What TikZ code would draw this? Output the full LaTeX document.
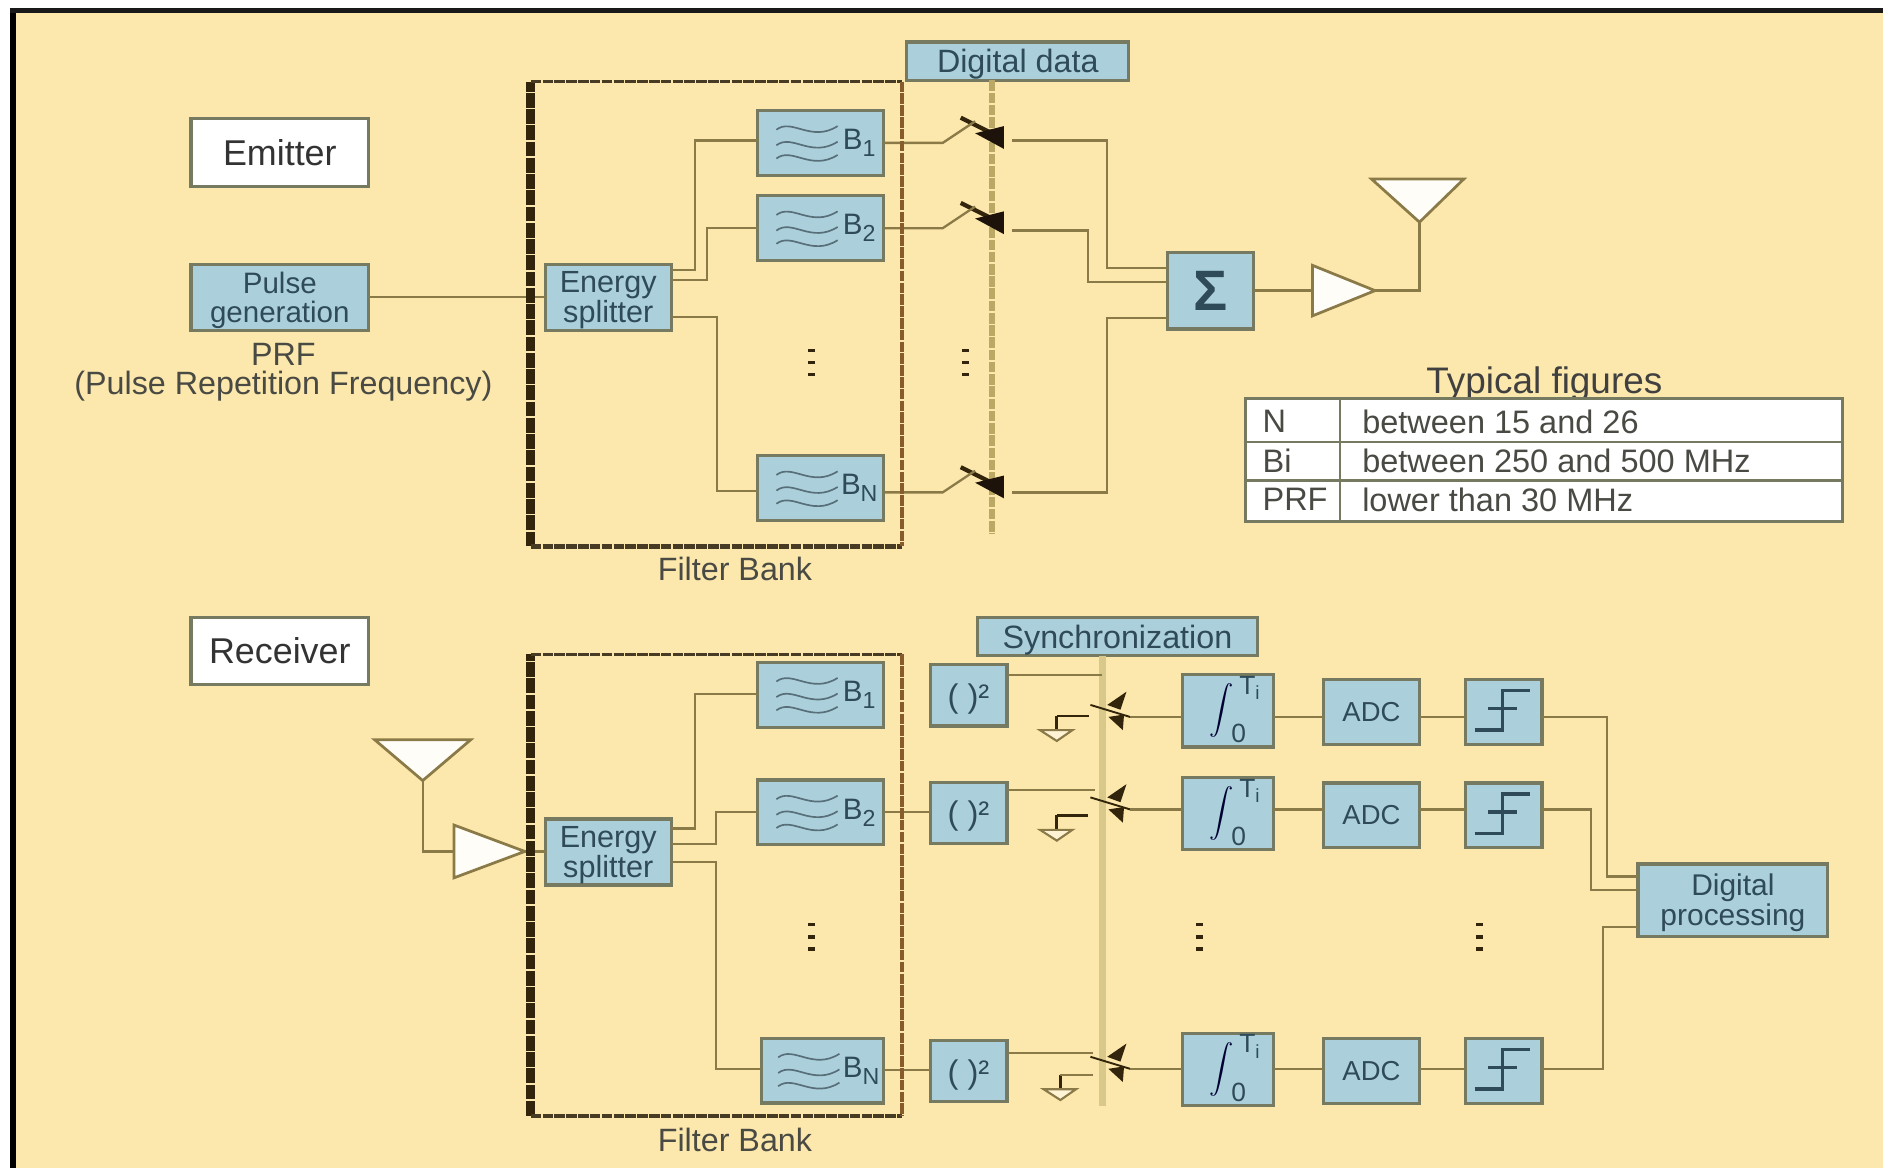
\documentclass[tikz,border=0pt]{standalone}
\usepackage{fontspec}
\setmainfont{Liberation Sans}
\definecolor{paper}{HTML}{FCE8AC}
\definecolor{boxfill}{HTML}{ABD0DC}
\definecolor{boxline}{HTML}{767A60}
\definecolor{wirec}{HTML}{8A7A48}
\definecolor{inkblue}{HTML}{2F4A58}
\definecolor{inkgrey}{HTML}{4A4A44}
\definecolor{darkbrown}{HTML}{33250C}
\definecolor{busc}{HTML}{BBA864}
\definecolor{syncc}{HTML}{D8C88A}
\newcommand{\fsz}[1]{\fontsize{#1}{#1}\selectfont}
\tikzset{
  x=0.02cm,y=-0.02cm,
  sized/.style 2 args={minimum width=0.02cm*#1,minimum height=0.02cm*#2,inner sep=0pt,outer sep=0pt},
  bluebox/.style={draw=boxline,fill=boxfill,line width=1.5pt,text=inkblue,align=center,text depth=0pt},
  whitebox/.style={draw=boxline,fill=white,line width=1.5pt,text=black!80,font=\fsz{17}},
  wire/.style={draw=wirec,line width=1.1pt,line join=miter},
  darkwire/.style={draw=darkbrown,line width=1.1pt},
  lbl/.style={inner sep=0pt,text=inkgrey,font=\fsz{15.3},align=center},
  tcell/.style={inner sep=0pt,anchor=west,text=inkgrey,font=\fsz{15.4}},
  waves/.pic={
    \foreach \yy in {-11,2,13}
      \draw[inkblue!80,line width=0.8pt] (-37,\yy) .. controls (-24,\yy-10) and (-8,\yy+11) .. (14,\yy-3);
  },
  thresh/.pic={
    \draw[inkblue,line width=1.7pt] (-24,15) -- (-1,15) -- (-1,-18) -- (22,-18);
    \draw[inkblue,line width=1.7pt] (-13,-3) -- (11,-3);
  },
  dsw/.pic={
    \draw[darkbrown,line width=2pt] (800,-21) -- (826,-8);
    \fill[black!85!brown] (812,-8) -- (836,-14) -- (836,5) -- cycle;
  },
  rsw/.pic={
    \draw[darkbrown,line width=0.9pt] (908,-10) -- (941,0);
    \fill[darkbrown] (938,-21) -- (922,-10) -- (933,-6) -- cycle;
    \fill[darkbrown] (923,0) -- (935,11) -- (936,-2) -- cycle;
  },
  gnd/.pic={
    \draw[darkbrown,line width=1.3pt] (0,0) -- (0,12);
    \draw[wirec,fill=paper!50!white,line width=1pt] (-14,12) -- (13,12) -- (0,21) -- cycle;
  },
  vdots/.pic={
    \foreach \yy in {-10,0,10}
      \fill[darkbrown] (-3,\yy-1.5) rectangle (3,\yy+1.5);
  },
  antfill/.style={draw=wirec,fill=white!90!paper,line width=1.3pt,line join=miter},
}
\newcommand{\filt}[5]{%
  \node[bluebox,sized={#4}{54}] (#1) at (#2,#3) {};
  \pic at (#1) {waves};
  \node[inner sep=0pt,text=inkblue,font=\fsz{14}] (#1lab) at ([xshift=0.64cm]#1) {B\raisebox{-0.45ex}{\fsz{11}#5}};
}
\newcommand{\integ}[3]{%
  \node[bluebox,sized={76}{60}] (#1) at (#2,#3) {};
  \node[inner sep=0pt,text=black!80!blue] (#1s) at ([xshift=-0.1cm]#1) {\scalebox{1.15}{$\displaystyle\int$}};
  \node[inner sep=0pt,text=inkblue,font=\fsz{12.5}] (#1t) at ([xshift=0.36cm,yshift=0.38cm]#1) {T\raisebox{-0.4ex}{\fsz{9}i}};
  \node[inner sep=0pt,text=inkblue,font=\fsz{12.5}] (#1z) at ([xshift=0.18cm,yshift=-0.38cm]#1) {0};
}
\begin{document}
\begin{tikzpicture}
\useasboundingbox (0,0) rectangle (1568,973);
\fill[white] (0,0) rectangle (1568,973);
\fill[paper] (8,8) rectangle (1568,973);
\fill[black] (8,7) rectangle (13,973);
\fill[black!90] (8,7) rectangle (1568,11);

% ---------- Emitter ----------
\node[whitebox,sized={148}{56}] (emit) at (233,127) {Emitter};
\node[bluebox,sized={148}{55},font=\fsz{14}] (pulse) at (233,247.5) {Pulse\\[-0.5pt]generation};
\node[lbl] (prf) at (236,310) {PRF\\[-1.5pt](Pulse Repetition Frequency)};
\node[inner sep=0pt,sized={309}{387}] (bank1) at (596.5,261.5) {};
\node[lbl] (bank1lab) at (612,474) {Filter Bank};
\node[bluebox,sized={185}{32},font=\fsz{15.3}] (ddata) at (847.5,51) {Digital data};
\coordinate (busend) at (826,445);
\draw[busc,line width=2.6pt,dash pattern=on 5pt off 0.8pt] (ddata.south -| busend) -- (busend);

\node[bluebox,sized={105}{55},font=\fsz{14.5}] (es1) at (506.5,247.5) {Energy\\[-0.5pt]splitter};
\filt{fa}{683.5}{119}{105}{1}
\filt{fb}{683.5}{190}{105}{2}
\filt{fc}{683.5}{406.5}{105}{N}
\node[bluebox,sized={72}{64},font=\fsz{27}\bfseries] (sum) at (1008,242) {Σ};

\pic at (0,119) {dsw};
\pic at (0,190) {dsw};
\pic at (0,410) {dsw};

\draw[wire] (pulse.east) -- (es1.west);
\draw[wire] (es1.east |- 0,225) -| (579,117) -- (fa.west |- 0,117);
\draw[wire] (es1.east |- 0,233) -| (589,190) -- (fb.west |- 0,190);
\draw[wire] (es1.east |- 0,264) -| (597,409) -- (fc.west |- 0,409);
\draw[wire] (fa.east |- 0,119) -- (785,119) -- (812,101);
\draw[wire] (fb.east |- 0,190) -- (785,190) -- (812,172);
\draw[wire] (fc.east |- 0,410) -- (785,410) -- (812,392);
\draw[wire] (843,117) -| (922,223) -- (sum.west |- 0,223);
\draw[wire] (843,192) -| (906,235) -- (sum.west |- 0,235);
\draw[wire] (843,410) -| (922,265) -- (sum.west |- 0,265);

\coordinate (amp1in) at (1093,242);
\coordinate (amp1out) at (1145,242);
\coordinate (ant1tip) at (1182,185);
\draw[wire] (sum.east) -- (amp1in);
\draw[antfill] (1093,221) -- (amp1out) -- (1093,263) -- cycle;
\draw[antfill] (1142,149) -- (1219,149) -- (ant1tip) -- cycle;
\draw[wire] (amp1out) -| (ant1tip);

\pic at (676,302) {vdots};
\pic at (804,302) {vdots};

% Typical figures
\node[inner sep=0pt,text=black!75,font=\fsz{17.5}] (tftitle) at (1286,320) {Typical figures};
\node[draw=boxline,fill=white,line width=1.3pt,sized={497}{102}] (tbl) at (1285.5,383) {};
\draw[boxline,line width=1.1pt] (tbl.west |- 0,368) -- (tbl.east |- 0,368);
\draw[boxline,line width=1.1pt] (tbl.west |- 0,400) -- (tbl.east |- 0,400);
\draw[boxline,line width=1.1pt] (1116,0 |- tbl.north) -- (1116,0 |- tbl.south);
\node[tcell] (c11) at (1051,351) {N};
\node[tcell] (c12) at (1134,351) {between 15 and 26};
\node[tcell] (c21) at (1051,384) {Bi};
\node[tcell] (c22) at (1134,384) {between 250 and 500 MHz};
\node[tcell] (c31) at (1051,416) {PRF};
\node[tcell] (c32) at (1134,416) {lower than 30 MHz};

% ---------- Receiver ----------
\node[whitebox,sized={148}{56}] (recv) at (233,542) {Receiver};
\node[inner sep=0pt,sized={309}{384}] (bank2) at (596.5,737) {};
\node[lbl] (bank2lab) at (612,949) {Filter Bank};
\node[bluebox,sized={233}{32},font=\fsz{15.3}] (sync) at (930.5,530) {Synchronization};
\coordinate (syncend) at (918,921);
\draw[syncc,line width=3.2pt] (918,0 |- sync.south) -- (syncend);

\node[bluebox,sized={105}{55},font=\fsz{14.5}] (es2) at (506.5,709.5) {Energy\\[-0.5pt]splitter};
\filt{ga}{683.5}{578.5}{105}{1}
\filt{gb}{683.5}{676.5}{105}{2}
\filt{gc}{685}{891.5}{102}{N}

\foreach \nm/\yy in {qa/579,qb/677,qc/892}
  \node[bluebox,sized={64}{51},font=\fsz{15.5}] (\nm) at (806.5,\yy) {( )²};
\integ{ia}{1022.5}{592}
\integ{ib}{1022.5}{677.5}
\integ{ic}{1022.5}{890.5}
\foreach \nm/\yy in {aa/593,ab/679,ac/892}
  \node[bluebox,sized={80}{54},font=\fsz{13}] (\nm) at (1142,\yy) {ADC};
\foreach \nm/\yy in {ta/593,tb/679,tc/892} {
  \node[bluebox,sized={64}{54}] (\nm) at (1252,\yy) {};
  \pic at (\nm) {thresh};
}
\node[bluebox,sized={158}{60},font=\fsz{14.2}] (dsp) at (1443,749.5) {Digital\\[0pt]processing};

\pic at (0,597) {rsw};
\pic at (0,674) {rsw};
\pic at (0,890) {rsw};
\pic at (880,596) {gnd};
\pic at (880,679) {gnd};
\pic at (883,895) {gnd};
\draw[darkwire] (880,596) -- (907,596);
\draw[darkwire] (880,679) -- (906,679);
\draw[wirec,line width=1.1pt] (883,895) -- (910,895);

\coordinate (amp2in) at (378,709);
\coordinate (amp2out) at (437,709);
\coordinate (ant2tip) at (352,650);
\draw[antfill] (378,687) -- (amp2out) -- (378,731) -- cycle;
\draw[antfill] (312,616) -- (392,616) -- (ant2tip) -- cycle;
\draw[wire] (ant2tip) |- (amp2in);
\draw[wire] (amp2out) -- (es2.west |- amp2out);

\draw[wire] (es2.east |- 0,690) -| (579,578) -- (ga.west |- 0,578);
\draw[wire] (es2.east |- 0,703) -| (596,676) -- (gb.west |- 0,676);
\draw[wire] (es2.east |- 0,718) -| (596,890) -- (gc.west |- 0,890);
\draw[wire] (gb.east |- 0,676) -- (qb.west |- 0,676);
\draw[wire] (gc.east |- 0,891) -- (qc.west |- 0,891);
\draw[wire] (qa.east |- 0,562) -- (918,562);
\draw[wire] (qb.east |- 0,658) -- (912,658);
\draw[wire] (qc.east |- 0,877) -- (910,877);
\foreach \nint/\nadc/\nthr/\yy in {ia/aa/ta/597,ib/ab/tb/674,ic/ac/tc/890} {
  \draw[wire] (\nint.west |- 0,\yy) -- (941,\yy);
  \draw[wire] (\nint.east |- 0,\yy) -- (\nadc.west |- 0,\yy);
  \draw[wire] (\nadc.east |- 0,\yy) -- (\nthr.west |- 0,\yy);
}
\draw[wire] (ta.east |- 0,597) -| (1338,730) -- (dsp.west |- 0,730);
\draw[wire] (tb.east |- 0,674) -| (1325,741) -- (dsp.west |- 0,741);
\draw[wire] (tc.east |- 0,890) -| (1335,772) -- (dsp.west |- 0,772);

\pic at (676,780) {vdots};
\pic at (999,780) {vdots};
\pic at (1232,780) {vdots};

% Filter bank outlines (drawn last, they sit over the wires)
\foreach \bk in {bank1,bank2} {
  \draw[darkbrown,line width=4.2pt,dash pattern=on 7pt off 0.7pt] (\bk.south west) -- (\bk.north west);
  \draw[darkbrown!90,line width=1.6pt,dash pattern=on 5pt off 0.6pt] (\bk.north west) -- (\bk.north east);
  \draw[darkbrown!90,line width=2pt,dash pattern=on 5pt off 0.6pt] (\bk.south west) -- (\bk.south east);
  \draw[brown!60!darkbrown,line width=2.2pt,dash pattern=on 5pt off 0.6pt] (\bk.north east) -- (\bk.south east);
}
\end{tikzpicture}
\end{document}
